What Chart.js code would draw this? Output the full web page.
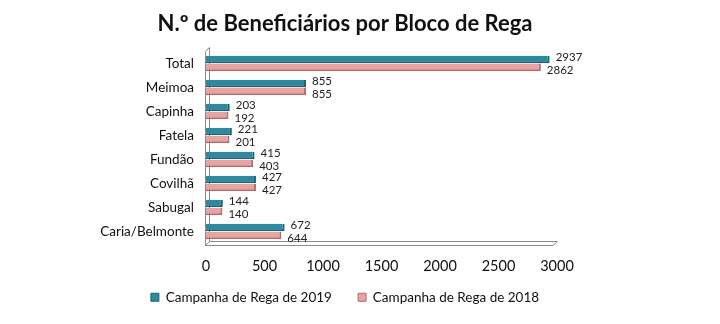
<!DOCTYPE html>
<html><head><meta charset="utf-8">
<script src="https://cdn.jsdelivr.net/npm/chart.js@4/dist/chart.umd.min.js"></script>
<style>html,body{margin:0;padding:0;background:#fff}#w{width:720px;height:324px}</style>
</head><body><div id="w"><canvas id="c" width="720" height="324"></canvas></div>
<script>
const categories = ["Total","Meimoa","Capinha","Fatela","Fundão","Covilhã","Sabugal","Caria/Belmonte"];
const values2019 = [2937,855,203,221,415,427,144,672];
const values2018 = [2862,855,192,201,403,427,140,644];
const xTicks = [0,500,1000,1500,2000,2500,3000];
const seriesNames = ["Campanha de Rega de 2019","Campanha de Rega de 2018"];

const FONT = "Lato, 'Open Sans', sans-serif";

const labelPlugin = {
  id: 'barLabels',
  afterDatasetsDraw(chart) {
    const ctx = chart.ctx;
    ctx.save();
    ctx.font = "11.5px " + FONT;
    ctx.fillStyle = "#222";
    ctx.textBaseline = "middle";
    ctx.textAlign = "left";
    chart.data.datasets.forEach((ds, di) => {
      const meta = chart.getDatasetMeta(di);
      meta.data.forEach((el, i) => {
        const dy = di === 0 ? -2 : 3;
        const dx = di === 0 ? 6 : 6;
        ctx.fillText(String(ds.data[i]), el.x + dx, el.y + dy);
      });
    });
    ctx.restore();
  }
};

const wallPlugin = {
  id: 'wall',
  beforeDatasetsDraw(chart) {
    const a = chart.chartArea, ctx = chart.ctx;
    ctx.save();
    ctx.strokeStyle = "#8c8c8c";
    ctx.lineWidth = 1;
    ctx.beginPath();
    ctx.moveTo(a.left + 3.5, a.top - 4);
    ctx.lineTo(a.left - 0.5, a.top);
    ctx.lineTo(a.left - 0.5, a.bottom + 2);
    ctx.lineTo(a.left + 3.5, a.bottom - 2);
    ctx.lineTo(a.left + 3.5, a.top - 4);
    ctx.stroke();
    ctx.beginPath();
    ctx.moveTo(a.left - 0.5, a.bottom + 2);
    ctx.lineTo(a.right - 4, a.bottom + 2);
    ctx.lineTo(a.right + 0.5, a.bottom - 2);
    ctx.lineTo(a.left + 3.5, a.bottom - 2);
    ctx.stroke();
    ctx.restore();
  }
};

new Chart(document.getElementById('c'), {
  type: 'bar',
  data: {
    labels: categories,
    datasets: [
      { label: seriesNames[0], data: values2019, backgroundColor: "#2b8aa0", borderColor: "#1d6272", borderWidth: {top:0,left:0,right:2,bottom:2}, borderSkipped: false },
      { label: seriesNames[1], data: values2018, backgroundColor: "#e9a3a3", borderColor: "#b06c6c", borderWidth: {top:0,left:0,right:2,bottom:2}, borderSkipped: false }
    ]
  },
  options: {
    indexAxis: 'y',
    responsive: false,
    animation: false,
    devicePixelRatio: 1,
    layout: { padding: { left: 100, right: 130, top: 0, bottom: 10 } },
    plugins: {
      title: { display: true, text: "N.º de Beneficiários por Bloco de Rega", color: "#111",
        font: { family: FONT, size: 22, weight: 'bold' }, padding: { top: 11, bottom: 14 } },
      legend: { position: 'bottom', labels: { color: "#111", font: { family: FONT, size: 13.5 },
        boxWidth: 8, boxHeight: 8, padding: 16,
        generateLabels(chart) {
          const items = Chart.defaults.plugins.legend.labels.generateLabels(chart);
          items[0].text = items[0].text + "\u2003";
          return items;
        } } },
      tooltip: { enabled: false }
    },
    scales: {
      x: {
        min: 0, max: 3000,
        afterBuildTicks(s) { s.ticks = xTicks.map(v => ({ value: v })); },
        afterFit(s) { s.height = 31; },
        grid: { display: false, drawTicks: false },
        border: { display: false },
        ticks: { color: "#111", font: { family: FONT, size: 14.5 }, padding: 14, callback: (v) => String(v) }
      },
      y: {
        grid: { display: false, drawTicks: false },
        border: { display: false },
        ticks: { color: "#111", font: { family: FONT, size: 13.5 }, padding: 12 },
        afterFit(s) { s.width = 106; }
      },
      y2: {
        type: 'category', labels: categories, position: 'right',
        grid: { display: false, drawTicks: false },
        border: { display: false },
        ticks: { display: false },
        afterFit(s) { s.width = 33; }
      }
    },
    datasets: { bar: { categoryPercentage: 0.66, barPercentage: 0.95 } }
  },
  plugins: [labelPlugin, wallPlugin]
});
</script>
</body></html>
